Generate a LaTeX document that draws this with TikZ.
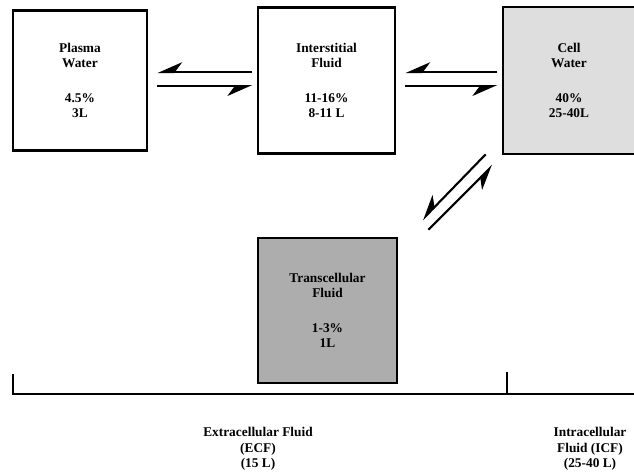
\documentclass[tikz,border=0pt]{standalone}
\usepackage{fontspec}
\setmainfont{Liberation Serif}
\usepackage{tikz}
\usetikzlibrary{arrows.meta}

\begin{document}
\begin{tikzpicture}[
    font=\fontsize{9.5}{10.7}\selectfont\bfseries,
    box/.style={rectangle, draw=black, line width=1.8pt, align=center, inner sep=0pt},
    arr/.style={-{Stealth[harpoon, swap, length=16pt, width=14pt]}, line width=1.5pt},
    brk/.style={line width=1.5pt, line cap=rect},
    lbl/.style={align=center, font=\fontsize{9.5}{11.2}\selectfont\bfseries}
]
\useasboundingbox (0,0) rectangle (15.85,11.85);

\node[box, minimum width=3.35cm, minimum height=3.5cm] (plasma) at (2.0,9.8375)
    {Plasma\\Water\\[14pt]4.5\%\\3L};
\node[box, minimum width=3.425cm, minimum height=3.65cm] (inter) at (8.1625,9.8375)
    {Interstitial\\Fluid\\[14pt]11-16\%\\8-11 L};
\node[box, fill=black!13, minimum width=3.3cm, minimum height=3.675cm] (cell) at (14.225,9.8375)
    {Cell\\Water\\[14pt]40\%\\25-40L};
\node[box, fill=black!32, minimum width=3.475cm, minimum height=3.625cm] (trans) at (8.1875,4.0875)
    {Transcellular\\Fluid\\[14pt]1-3\%\\1L};

\foreach \a/\b in {plasma/inter, inter/cell} {
    \draw[arr, shorten <=1.1mm, shorten >=2.25mm] ([yshift=2.1mm]\b.west) -- ([yshift=2.1mm]\a.east);
    \draw[arr, shorten <=2.25mm, shorten >=1.1mm] ([yshift=-1.4mm]\a.east) -- ([yshift=-1.4mm]\b.west);
}
\draw[arr] ([shift={(-0.4,0.025)}]cell.south west) -- ([shift={(0.6,0.425)}]trans.north east);
\draw[arr] ([shift={(0.75,0.175)}]trans.north east) -- ([shift={(-0.225,-0.25)}]cell.south west);

\coordinate (brL) at (0.325,2.475);
\coordinate (brLb) at (0.325,2.0);
\coordinate (brM) at (12.675,2.525);
\coordinate (brMb) at (12.675,2.0);
\coordinate (brR) at (15.85,2.0);
\draw[brk] (brL) -- (brLb) -- (brR);
\draw[brk] (brM) -- (brMb);

\node[lbl] (ecf) at (6.45,0.625) {Extracellular Fluid\\(ECF)\\(15 L)};
\node[lbl] (icf) at (14.75,0.625) {Intracellular\\Fluid (ICF)\\(25-40 L)};
\end{tikzpicture}
\end{document}
